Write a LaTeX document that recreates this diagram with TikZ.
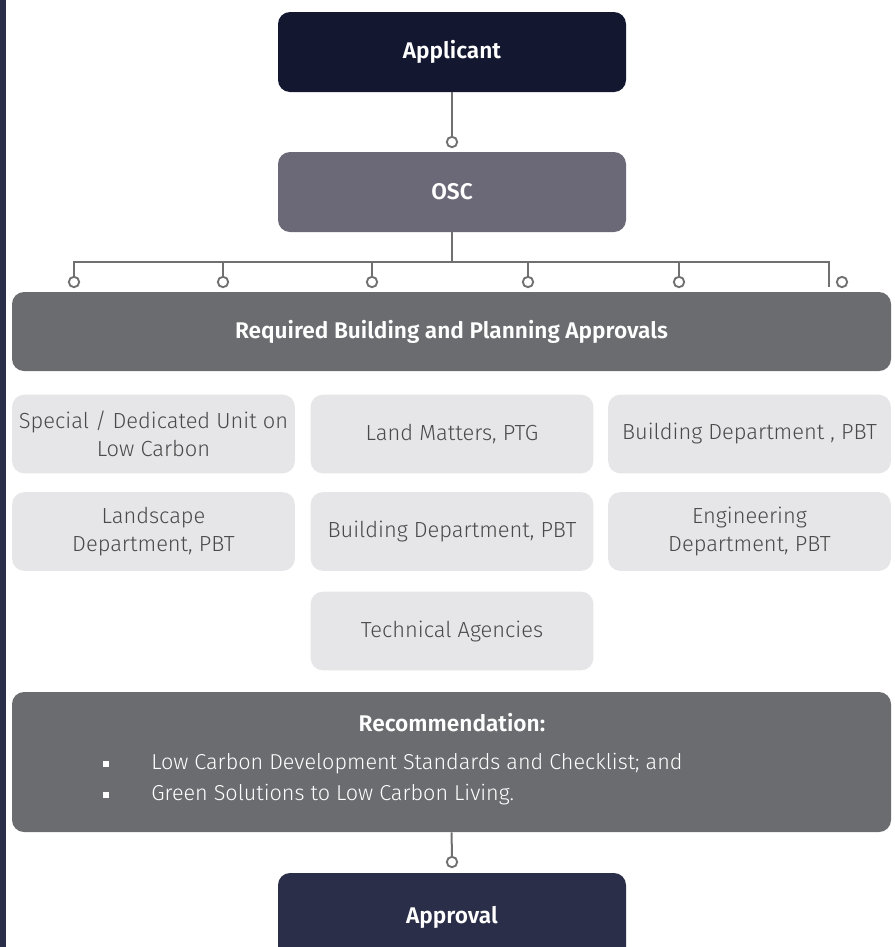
\documentclass[tikz,border=0pt]{standalone}
\usepackage{fontspec}
\setmainfont{Fira Sans}[UprightFont={* Light},BoldFont={* SemiBold}]
\definecolor{barc}{HTML}{2A2E48}
\definecolor{appc}{HTML}{131830}
\definecolor{oscc}{HTML}{6B6878}
\definecolor{bigc}{HTML}{6B6C70}
\definecolor{litc}{HTML}{E6E6E8}
\definecolor{linec}{HTML}{707070}
\definecolor{txtc}{HTML}{4A4A4A}
\tikzset{
  box/.style={rounded corners=9pt,inner sep=0pt,align=center},
  boldf/.style={font=\bfseries\fontsize{17}{20}\selectfont},
  topbox/.style={box,minimum width=261pt,minimum height=60pt,text=white,boldf},
  bigbox/.style={box,fill=bigc,minimum width=659.25pt,text=white},
  litbox/.style={box,fill=litc,minimum width=212pt,minimum height=59pt,text=txtc,font=\fontsize{16.4}{21.5}\selectfont},
  conn/.style={draw=linec,line width=1.5pt},
  dot/.style={circle,draw=linec,line width=1.4pt,fill=white,inner sep=0pt,minimum size=7.8pt},
  bul/.style={fill=white,minimum size=4.5pt,inner sep=0pt},
  bultxt/.style={anchor=west,inner sep=0pt,text=white,font=\fontsize{16.2}{19}\selectfont}
}
\begin{document}
\begin{tikzpicture}[x=0.75pt,y=-0.75pt]
\useasboundingbox (0,0) rectangle (895,947);
\fill[barc] (0,0) rectangle (6,947);
% top boxes
\node[topbox,fill=appc] (app) at (452,52) {Applicant};
\node[dot] (c0) at (452,142) {};
\node[topbox,fill=oscc] (osc) at (452,192) {OSC};
\draw[conn] (app.south) -- (c0.north);
% bus
\coordinate (bl) at (74,262);
\coordinate (bm) at (452,262);
\coordinate (br) at (829,262);
\draw[conn] (osc.south) -- (bm);
\draw[conn,line cap=rect] (bl) -- (br);
\foreach \x/\n in {74/1,223/2,372/3,528/4,679/5}{
  \node[dot] (d\n) at (\x,282) {};
  \coordinate (t\n) at (\x,262);
  \draw[conn] (t\n) -- (d\n.north);
}
\coordinate (e6) at (829,287);
\draw[conn] (br) -- (e6);
\node[dot] (d6) at (842,282) {};
% required
\node[bigbox,minimum height=59.25pt,boldf] (req) at (451.5,331.5) {Required Building and Planning Approvals};
% light grid
\node[litbox] (g11) at (153.5,434) {Special / Dedicated Unit on\\Low Carbon};
\node[litbox] (g12) at (452,434) {Land Matters, PTG};
\node[litbox] (g13) at (749.5,434) {Building Department , PBT};
\node[litbox] (g21) at (153.5,531.5) {Landscape\\Department, PBT};
\node[litbox] (g22) at (452,531.5) {Building Department, PBT};
\node[litbox] (g23) at (749.5,531.5) {Engineering\\Department, PBT};
\node[litbox] (g32) at (452,631) {Technical Agencies};
% recommendation
\node[bigbox,minimum height=105pt] (rec) at (451.5,762) {};
\node[text=white,boldf] (rt) at (452,723) {Recommendation:};
\node[bul] (b1) at (106,764) {};
\node[bul] (b2) at (106,795) {};
\node[bultxt] (l1) at (151,764) {Low Carbon Development Standards and Checklist; and};
\node[bultxt] (l2) at (151,795) {Green Solutions to Low Carbon Living.};
% approval
\node[dot] (c9) at (452,862) {};
\draw[conn] (rec.south) -- (c9.north);
\node[topbox,fill=barc,minimum height=66pt] (appr) at (452,917) {Approval};
\end{tikzpicture}
\end{document}
